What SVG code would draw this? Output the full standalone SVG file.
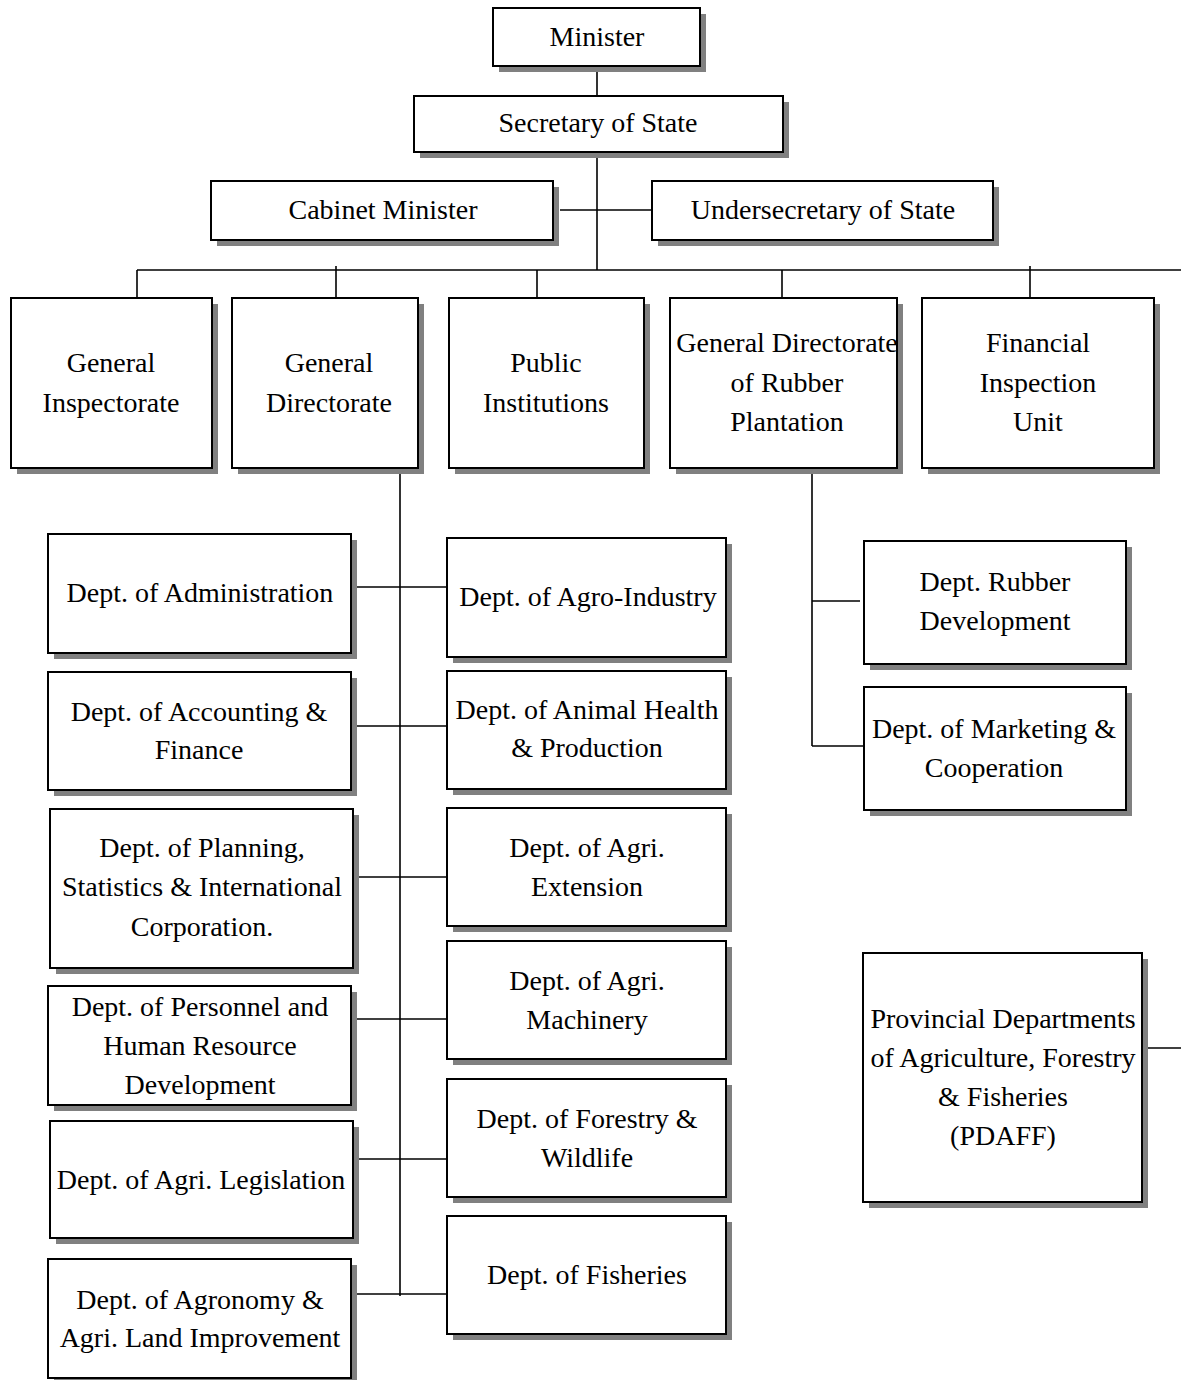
<svg xmlns="http://www.w3.org/2000/svg" width="1181" height="1380" viewBox="0 0 1181 1380">
<style>
.sh{fill:#808080}
.bx{fill:#fff;stroke:#000;stroke-width:2}
.t{font-family:"Liberation Serif","Times New Roman",serif;font-size:28px;fill:#000;text-anchor:middle}
.ln{stroke:#000;stroke-width:1.6;fill:none}
</style>
<rect width="1181" height="1380" fill="#fff"/>
<g id="connectors">
<line class="ln" x1="597" y1="66" x2="597" y2="96"/>
<line class="ln" x1="597" y1="152" x2="597" y2="270"/>
<line class="ln" x1="560" y1="210" x2="652" y2="210"/>
<line class="ln" x1="137" y1="270" x2="1181" y2="270"/>
<line class="ln" x1="137" y1="270" x2="137" y2="298"/>
<line class="ln" x1="336" y1="266" x2="336" y2="300"/>
<line class="ln" x1="537" y1="270" x2="537" y2="300"/>
<line class="ln" x1="782" y1="270" x2="782" y2="298"/>
<line class="ln" x1="1030" y1="266" x2="1030" y2="300"/>
<line class="ln" x1="400" y1="468" x2="400" y2="1296"/>
<line class="ln" x1="356" y1="587" x2="448" y2="587"/>
<line class="ln" x1="355" y1="726" x2="450" y2="726"/>
<line class="ln" x1="356" y1="877" x2="450" y2="877"/>
<line class="ln" x1="352" y1="1019" x2="447" y2="1019"/>
<line class="ln" x1="356" y1="1159" x2="450" y2="1159"/>
<line class="ln" x1="352" y1="1294" x2="447" y2="1294"/>
<line class="ln" x1="812" y1="468" x2="812" y2="746"/>
<line class="ln" x1="812" y1="601" x2="860" y2="601"/>
<line class="ln" x1="812" y1="746" x2="866" y2="746"/>
<line class="ln" x1="1142" y1="1048" x2="1181" y2="1048"/>
</g>
<g id="minister"><rect class="sh" x="499" y="14" width="207" height="58"/><rect class="bx" x="493" y="8" width="207" height="58"/><text class="t" x="597" y="46">Minister</text></g>
<g id="secretary"><rect class="sh" x="420" y="102" width="369" height="56"/><rect class="bx" x="414" y="96" width="369" height="56"/><text class="t" x="598" y="132">Secretary of State</text></g>
<g id="cabinet"><rect class="sh" x="217" y="187" width="342" height="59"/><rect class="bx" x="211" y="181" width="342" height="59"/><text class="t" x="383" y="219">Cabinet Minister</text></g>
<g id="undersecretary"><rect class="sh" x="658" y="187" width="341" height="59"/><rect class="bx" x="652" y="181" width="341" height="59"/><text class="t" x="823" y="219">Undersecretary of State</text></g>
<g id="gen-inspectorate"><rect class="sh" x="17" y="304" width="201" height="170"/><rect class="bx" x="11" y="298" width="201" height="170"/><text class="t" x="111" y="372">General</text><text class="t" x="111" y="412">Inspectorate</text></g>
<g id="gen-directorate"><rect class="sh" x="238" y="304" width="186" height="170"/><rect class="bx" x="232" y="298" width="186" height="170"/><text class="t" x="329" y="372">General</text><text class="t" x="329" y="412">Directorate</text></g>
<g id="public-institutions"><rect class="sh" x="455" y="304" width="195" height="170"/><rect class="bx" x="449" y="298" width="195" height="170"/><text class="t" x="546" y="372">Public</text><text class="t" x="546" y="412">Institutions</text></g>
<g id="gd-rubber"><rect class="sh" x="676" y="304" width="227" height="170"/><rect class="bx" x="670" y="298" width="227" height="170"/><text class="t" x="787" y="352">General Directorate</text><text class="t" x="787" y="392">of Rubber</text><text class="t" x="787" y="431">Plantation</text></g>
<g id="financial-inspection"><rect class="sh" x="928" y="304" width="232" height="170"/><rect class="bx" x="922" y="298" width="232" height="170"/><text class="t" x="1038" y="352">Financial</text><text class="t" x="1038" y="392">Inspection</text><text class="t" x="1038" y="431">Unit</text></g>
<g id="dept-administration"><rect class="sh" x="54" y="540" width="303" height="119"/><rect class="bx" x="48" y="534" width="303" height="119"/><text class="t" x="200" y="602">Dept. of Administration</text></g>
<g id="dept-accounting"><rect class="sh" x="54" y="678" width="303" height="118"/><rect class="bx" x="48" y="672" width="303" height="118"/><text class="t" x="199" y="721">Dept. of Accounting &amp;</text><text class="t" x="199" y="759">Finance</text></g>
<g id="dept-planning"><rect class="sh" x="56" y="815" width="303" height="159"/><rect class="bx" x="50" y="809" width="303" height="159"/><text class="t" x="202" y="857">Dept. of Planning,</text><text class="t" x="202" y="896">Statistics &amp; International</text><text class="t" x="202" y="936">Corporation.</text></g>
<g id="dept-personnel"><rect class="sh" x="54" y="992" width="303" height="119"/><rect class="bx" x="48" y="986" width="303" height="119"/><text class="t" x="200" y="1016">Dept. of Personnel and</text><text class="t" x="200" y="1055">Human Resource</text><text class="t" x="200" y="1094">Development</text></g>
<g id="dept-legislation"><rect class="sh" x="56" y="1127" width="303" height="117"/><rect class="bx" x="50" y="1121" width="303" height="117"/><text class="t" x="201" y="1189">Dept. of Agri. Legislation</text></g>
<g id="dept-agronomy"><rect class="sh" x="54" y="1265" width="303" height="119"/><rect class="bx" x="48" y="1259" width="303" height="119"/><text class="t" x="200" y="1309">Dept. of Agronomy &amp;</text><text class="t" x="200" y="1347">Agri. Land Improvement</text></g>
<g id="dept-agro-industry"><rect class="sh" x="453" y="544" width="279" height="119"/><rect class="bx" x="447" y="538" width="279" height="119"/><text class="t" x="588" y="606">Dept. of Agro-Industry</text></g>
<g id="dept-animal-health"><rect class="sh" x="453" y="677" width="279" height="118"/><rect class="bx" x="447" y="671" width="279" height="118"/><text class="t" x="587" y="719">Dept. of Animal Health</text><text class="t" x="587" y="757">&amp; Production</text></g>
<g id="dept-extension"><rect class="sh" x="453" y="814" width="279" height="118"/><rect class="bx" x="447" y="808" width="279" height="118"/><text class="t" x="587" y="857">Dept. of Agri.</text><text class="t" x="587" y="896">Extension</text></g>
<g id="dept-machinery"><rect class="sh" x="453" y="947" width="279" height="118"/><rect class="bx" x="447" y="941" width="279" height="118"/><text class="t" x="587" y="990">Dept. of Agri.</text><text class="t" x="587" y="1029">Machinery</text></g>
<g id="dept-forestry"><rect class="sh" x="453" y="1085" width="279" height="118"/><rect class="bx" x="447" y="1079" width="279" height="118"/><text class="t" x="587" y="1128">Dept. of Forestry &amp;</text><text class="t" x="587" y="1167">Wildlife</text></g>
<g id="dept-fisheries"><rect class="sh" x="453" y="1222" width="279" height="118"/><rect class="bx" x="447" y="1216" width="279" height="118"/><text class="t" x="587" y="1284">Dept. of Fisheries</text></g>
<g id="dept-rubber-development"><rect class="sh" x="870" y="547" width="262" height="123"/><rect class="bx" x="864" y="541" width="262" height="123"/><text class="t" x="995" y="591">Dept. Rubber</text><text class="t" x="995" y="630">Development</text></g>
<g id="dept-marketing"><rect class="sh" x="870" y="693" width="262" height="123"/><rect class="bx" x="864" y="687" width="262" height="123"/><text class="t" x="994" y="738">Dept. of Marketing &amp;</text><text class="t" x="994" y="777">Cooperation</text></g>
<g id="pdaff"><rect class="sh" x="869" y="959" width="279" height="249"/><rect class="bx" x="863" y="953" width="279" height="249"/><text class="t" x="1003" y="1028">Provincial Departments</text><text class="t" x="1003" y="1067">of Agriculture, Forestry</text><text class="t" x="1003" y="1106">&amp; Fisheries</text><text class="t" x="1003" y="1145">(PDAFF)</text></g>
</svg>
